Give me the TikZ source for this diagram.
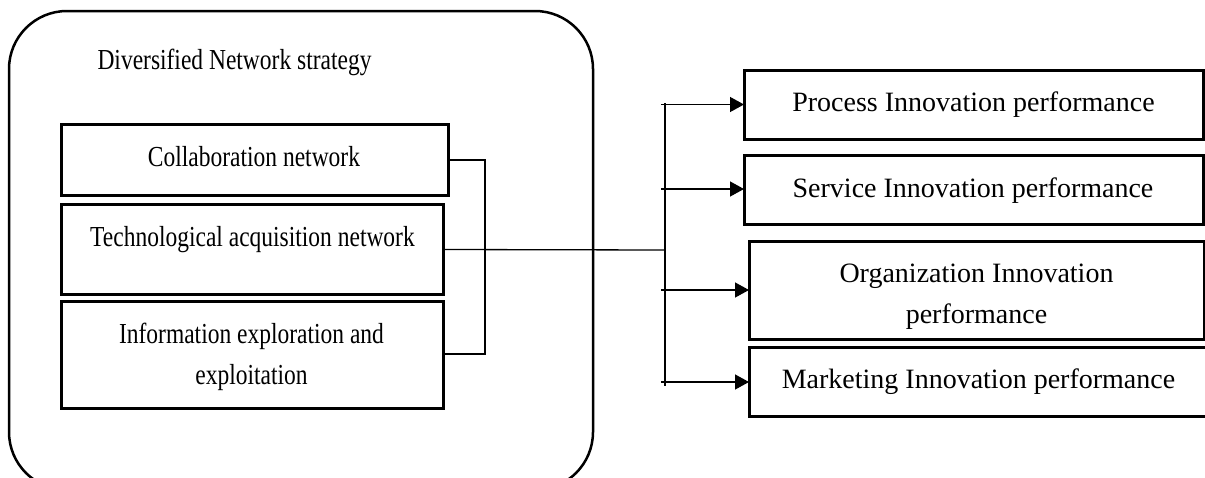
\documentclass[tikz,border=0pt]{standalone}
\usepackage{fontspec}
\usepackage{graphicx}
\setmainfont{Liberation Serif}
\usetikzlibrary{arrows.meta}
\newcommand\narrowtext[1]{\scalebox{0.81}[1]{\begin{tabular}[t]{@{}c@{}}#1\end{tabular}}}
\newcommand\widetext[1]{\begin{tabular}[t]{@{}c@{}}#1\end{tabular}}
\begin{document}
\begin{tikzpicture}[x=1pt,y=-1pt,
  box/.style={draw,line width=3pt,inner sep=0pt,outer sep=0pt},
  lfont/.style={font=\fontsize{29}{41}\selectfont},
  rfont/.style={font=\fontsize{28}{41}\selectfont},
  txt/.style={inner sep=0pt,anchor=base},
  conn/.style={line width=1.3pt},
  arr/.style={line width=1.3pt,-{Triangle[length=14pt,width=15pt]}}]
\useasboundingbox (0,0) rectangle (1205,477);
\draw[line width=2.5pt,rounded corners=58pt] (9,11) rectangle (593,490);
\node[txt,lfont] (title) at (234.5,69.3) {\narrowtext{Diversified Network strategy}};
% left boxes
\node[box,minimum width=387pt,minimum height=71pt] (b1) at (254.5,159.5) {};
\node[box,minimum width=382pt,minimum height=90pt] (b2) at (252,249.5) {};
\node[box,minimum width=382pt,minimum height=107pt] (b3) at (252,354.5) {};
\node[txt,lfont] (b1t) at (254,166) {\narrowtext{Collaboration network}};
\node[txt,lfont] (b2t) at (252.5,246) {\narrowtext{Technological acquisition network}};
\node[txt,lfont] (b3t) at (251.5,343) {\narrowtext{Information exploration and\\exploitation}};
% right boxes
\node[box,minimum width=459pt,minimum height=69pt] (p) at (973.5,104.5) {};
\node[box,minimum width=459pt,minimum height=69pt] (s) at (973.5,189.5) {};
\node[box,minimum width=455pt,minimum height=98pt] (o) at (976.5,290) {};
\node[box,minimum width=461pt,minimum height=69pt] (m) at (979.5,381.5) {};
\node[txt,rfont] (pt) at (973.5,111) {\widetext{Process Innovation performance}};
\node[txt,rfont] (st) at (973,197) {\widetext{Service Innovation performance}};
\node[txt,rfont] (ot) at (976.5,282) {\widetext{Organization Innovation\\performance}};
\node[txt,rfont] (mt) at (978.5,388) {\widetext{Marketing Innovation performance}};
% connectors
\coordinate (j1) at (485,160);
\coordinate (j3) at (485,354);
\coordinate (hub) at (665,250);
\coordinate (vt) at (665,103);
\coordinate (vb) at (665,386);
\coordinate (a1) at (661,104.5);
\coordinate (a2) at (661,189);
\coordinate (a3) at (661,290);
\coordinate (a4) at (661,382);
\draw[conn] (b1.east |- j1) -- (j1) -- (j3) -- (b3.east |- j3);
\draw[conn] (b2.east) -- (hub);
\draw[conn] (vt) -- (vb);
\draw[arr] (a1) -- (a1 -| p.west);
\draw[arr] (a2) -- (a2 -| s.west);
\draw[arr] (a3) -- (a3 -| o.west);
\draw[arr] (a4) -- (a4 -| m.west);
\end{tikzpicture}
\end{document}
